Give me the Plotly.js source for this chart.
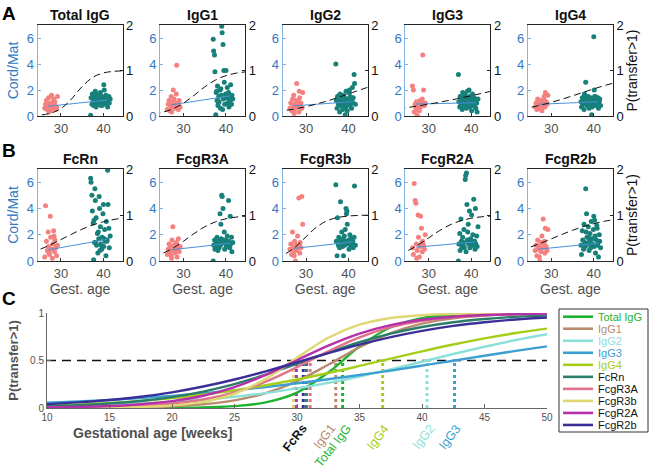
<!DOCTYPE html>
<html>
<head>
<meta charset="utf-8">
<script src="https://cdn.plot.ly/plotly-3.0.1.min.js"></script>
<style>body{margin:0;background:#fff}#plot{width:649px;height:471px}</style>
</head>
<body>
<div id="plot"></div>
<script>
'use strict';
var W = 649, H = 471;
function fx(p) { return p / W; }
function fy(p) { return 1 - p / H; }

var panelNames = ['Total IgG', 'IgG1', 'IgG2', 'IgG3', 'IgG4', 'FcRn', 'FcgR3A', 'FcgR3b', 'FcgR2A', 'FcgR2b'];
var curveColors = ['#1db32e', '#b88a6e', '#8be0d9', '#3b9fd1', '#a6cd1a', '#2b7d6a', '#e0728c', '#dfd774', '#b630aa', '#3a2f96'];

// gestational age of the preterm and term mothers (weeks)
var preAge = [26.2, 26.4, 26.6, 26.8, 27.0, 27.1, 27.3, 27.5, 27.6, 27.8, 28.0, 28.1, 28.3, 28.5, 28.6, 28.8, 29.0, 29.2, 27.2, 28.4];
var termAge = [37.0, 37.1, 37.3, 37.4, 37.6, 37.7, 37.9, 38.0, 38.1, 38.3, 38.4, 38.6, 38.7, 38.9, 39.0, 39.1, 39.3, 39.4, 39.6, 39.7,
  39.9, 40.0, 40.1, 40.3, 40.4, 40.6, 40.7, 40.9, 41.0, 41.1, 41.3, 41.4, 41.6, 38.2, 38.8, 39.5, 40.2, 39.2, 37.8, 40.8];

// cord/maternal ratios
var preTotalIgG = [0.6, 0.9, 1.2, 0.5, 0.8, 1.4, 0.7, 1.0, 0.4, 1.6, 0.9, 0.6, 1.3, 0.8, 1.1, 0.5, 0.7, 1.5, 0.3, 1.0];
var termTotalIgG = [0.05, 1.4, 0.9, 1.7, 1.2, 0.8, 1.5, 1.1, 1.9, 0.7, 1.3, 1.0, 1.6, 1.2, 0.9, 1.4, 1.8, 1.1, 0.8, 1.5,
  1.2, 1.0, 2.4, 1.3, 0.9, 1.6, 1.1, 1.4, 0.7, 1.2, 1.5, 1.0, 1.3, 1.7, 1.2, 0.8, 2.0, 1.4, 1.0, 1.1];
var preIgG1 = [0.5, 0.9, 1.2, 0.4, 0.8, 1.5, 0.7, 1.1, 2.0, 1.3, 0.6, 0.9, 1.7, 0.8, 1.0, 0.5, 1.2, 0.7, 0.3, 3.9];
var termIgG1 = [5.9, 5.0, 4.7, 3.4, 0.1, 1.8, 1.2, 2.3, 0.8, 1.5, 1.1, 2.0, 0.6, 1.6, 6.9, 6.4, 5.5, 1.3, 2.6, 0.9,
  1.7, 3.5, 1.4, 2.2, 1.0, 1.8, 0.7, 1.5, 1.2, 2.4, 0.9, 1.6, 1.3, 1.0, 2.1, 3.5, 1.4, 0.5, 1.9, 1.1];
var preIgG2 = [0.6, 1.0, 0.4, 1.3, 0.8, 1.6, 0.5, 0.9, 1.2, 2.5, 0.7, 1.1, 0.3, 1.4, 0.8, 1.0, 0.6, 1.8, 0.2, 1.9];
var termIgG2 = [4.0, 1.2, 0.6, 1.5, 0.9, 1.1, 0.3, 1.7, 0.8, 1.3, 1.0, 0.5, 1.6, 1.2, 0.9, 1.4, 0.7, 1.9, 1.1, 0.4,
  1.3, 1.0, 1.8, 0.8, 1.5, 1.2, 0.6, 2.2, 1.0, 1.4, 3.2, 2.5, 0.9, 1.3, 0.7, 1.1, 2.0, 0.1, 1.6, 1.2];
var preIgG3 = [2.3, 2.0, 0.3, 0.9, 0.6, 1.1, 0.05, 0.8, 1.0, 0.4, 1.2, 0.7, 0.9, 1.3, 4.7, 2.0, 0.8, 1.0, 0.5, 1.1];
var termIgG3 = [3.2, 1.1, 0.7, 1.5, 0.9, 1.3, 0.5, 1.8, 1.0, 1.2, 0.8, 1.6, 1.1, 0.6, 1.4, 1.9, 0.9, 1.2, 0.7, 1.5,
  1.0, 1.3, 0.4, 1.7, 1.1, 0.8, 1.4, 0.9, 1.2, 0.6, 1.0, 0.3, 1.3, 1.5, 1.1, 2.0, 0.8, 1.2, 0.9, 1.0];
var preIgG4 = [0.7, 1.0, 0.5, 1.3, 0.8, 1.1, 0.6, 0.9, 1.2, 0.4, 1.0, 0.8, 1.5, 0.7, 1.8, 1.1, 0.9, 1.6, 0.6, 1.2];
var termIgG4 = [1.1, 0.7, 1.4, 0.9, 1.2, 0.5, 1.6, 1.0, 2.6, 1.3, 0.8, 1.1, 1.5, 0.6, 1.2, 0.9, 1.4, 1.0, 0.7, 1.3,
  1.1, 6.1, 2.0, 0.8, 1.5, 1.0, 1.2, 0.9, 1.4, 0.6, 1.1, 1.3, 0.8, 1.0, 1.2, 0.1, 1.5, 0.9, 1.7, 1.1];
var preFcRn = [0.3, 4.2, 1.5, 0.8, 2.2, 1.1, 0.5, 3.4, 1.8, 0.9, 0.2, 1.3, 2.3, 0.7, 1.6, 1.0, 0.4, 1.2, 0.6, 1.9];
var termFcRn = [6.3, 6.0, 5.0, 3.8, 2.9, 0.1, 1.4, 5.5, 4.6, 3.3, 1.2, 2.1, 0.6, 1.7, 4.9, 4.0, 2.6, 1.3, 0.9, 1.8,
  3.6, 4.3, 1.1, 2.4, 1.5, 0.4, 3.0, 1.6, 6.9, 4.3, 2.5, 1.0, 1.9, 1.4, 2.2, 1.2, 1.7, 0.8, 3.1, 1.5];
var preFcgR3A = [0.5, 0.9, 1.3, 0.7, 1.1, 0.4, 1.6, 2.6, 0.8, 1.2, 0.6, 1.0, 1.4, 0.3, 0.9, 1.7, 0.7, 1.1, 0.2, 1.3];
var termFcgR3A = [0.0, 1.2, 1.6, 0.9, 1.4, 1.1, 1.8, 1.3, 0.8, 1.5, 1.0, 3.6, 1.2, 1.7, 5.0, 4.9, 4.0, 1.4, 2.2, 0.9,
  1.3, 1.6, 1.1, 1.9, 1.2, 4.6, 1.5, 1.0, 3.4, 1.3, 1.8, 0.7, 1.4, 1.1, 2.8, 1.6, 1.2, 1.5, 1.0, 1.3];
var preFcgR3b = [0.9, 1.3, 0.5, 2.2, 1.0, 0.7, 1.5, 0.0, 1.2, 0.8, 1.9, 1.1, 4.8, 0.6, 1.4, 1.0, 4.9, 2.8, 0.4, 1.2];
var termFcgR3b = [5.8, 1.5, 0.4, 3.3, 1.2, 1.8, 1.0, 1.6, 4.5, 1.3, 2.2, 1.1, 1.7, 1.4, 1.9, 1.2, 1.5, 4.0, 3.8, 2.8,
  1.3, 1.6, 0.9, 2.0, 1.4, 1.1, 1.7, 1.3, 1.5, 1.0, 1.8, 5.7, 1.2, 1.4, 0.4, 3.6, 1.6, 2.4, 1.1, 1.3];
var preFcgR2A = [1.0, 0.5, 5.9, 4.6, 4.4, 1.3, 0.8, 3.5, 1.8, 0.3, 1.1, 3.4, 2.5, 0.7, 1.5, 1.2, 0.9, 2.0, 0.2, 1.4];
var termFcgR2A = [0.0, 1.3, 2.1, 0.8, 3.2, 1.5, 1.1, 1.8, 1.2, 2.4, 1.0, 6.2, 6.5, 6.7, 4.3, 1.6, 2.8, 1.3, 3.8, 1.0,
  1.7, 1.4, 3.5, 1.2, 2.0, 4.7, 1.5, 0.9, 4.0, 1.3, 1.9, 1.1, 2.6, 1.4, 0.7, 1.6, 1.2, 2.2, 1.0, 1.5];
var preFcgR2b = [0.8, 1.2, 0.4, 1.6, 0.9, 1.1, 0.0, 1.4, 0.7, 1.9, 1.0, 3.2, 1.3, 0.6, 2.5, 1.1, 0.8, 2.4, 0.3, 1.5];
var termFcgR2b = [1.2, 0.5, 2.3, 1.6, 0.9, 2.8, 1.4, 1.1, 5.5, 3.6, 1.8, 1.3, 2.6, 0.8, 1.5, 2.1, 1.0, 3.0, 1.7, 1.3,
  2.4, 3.4, 1.1, 1.9, 0.6, 1.6, 2.7, 1.2, 1.4, 0.3, 2.0, 1.5, 1.0, 2.2, 1.8, 1.3, 3.1, 1.6, 1.2, 2.5];

// linear fit of the ratio, read at its two ends
var fitAge = [27, 41];
var fitStart = [0.75, 0.85, 0.78, 0.92, 0.9, 0.85, 0.85, 0.95, 1.05, 0.9];
var fitEnd = [1.23, 1.55, 1.1, 1.02, 1.1, 1.65, 1.35, 1.45, 1.45, 1.35];

// P(transfer>1) curves
var curveAge = [10, 12.5, 15, 17.5, 20, 22.5, 25, 27.5, 30, 32.5, 35, 37.5, 40, 42.5, 45, 47.5, 50];
var pTotalIgG = [0.000, 0.000, 0.000, 0.001, 0.002, 0.007, 0.020, 0.059, 0.162, 0.373, 0.647, 0.850, 0.946, 0.982, 0.994, 0.998, 0.999];
var pIgG1 = [0.001, 0.002, 0.004, 0.009, 0.019, 0.040, 0.081, 0.157, 0.283, 0.455, 0.639, 0.789, 0.888, 0.944, 0.973, 0.987, 0.994];
var pIgG2 = [0.019, 0.026, 0.036, 0.048, 0.066, 0.089, 0.119, 0.157, 0.206, 0.264, 0.331, 0.407, 0.487, 0.568, 0.645, 0.716, 0.777];
var pIgG3 = [0.055, 0.068, 0.085, 0.105, 0.128, 0.155, 0.186, 0.221, 0.260, 0.302, 0.347, 0.394, 0.446, 0.498, 0.550, 0.601, 0.649];
var pIgG4 = [0.025, 0.036, 0.052, 0.075, 0.104, 0.140, 0.185, 0.239, 0.300, 0.368, 0.443, 0.520, 0.596, 0.668, 0.733, 0.789, 0.836];
var pFcRn = [0.019, 0.030, 0.048, 0.074, 0.115, 0.173, 0.251, 0.350, 0.465, 0.582, 0.692, 0.783, 0.853, 0.903, 0.937, 0.960, 0.975];
var pFcgR3A = [0.003, 0.007, 0.013, 0.025, 0.048, 0.090, 0.163, 0.277, 0.430, 0.597, 0.744, 0.851, 0.918, 0.956, 0.977, 0.988, 0.994];
var pFcgR3b = [0.001, 0.002, 0.004, 0.011, 0.027, 0.065, 0.150, 0.307, 0.528, 0.739, 0.877, 0.947, 0.978, 0.991, 0.996, 0.999, 0.999];
var pFcgR2A = [0.006, 0.011, 0.021, 0.040, 0.073, 0.129, 0.220, 0.348, 0.503, 0.657, 0.784, 0.873, 0.929, 0.961, 0.979, 0.989, 0.994];
var pFcgR2b = [0.041, 0.059, 0.084, 0.119, 0.165, 0.226, 0.300, 0.386, 0.481, 0.577, 0.667, 0.746, 0.812, 0.864, 0.903, 0.932, 0.953];

// age where P(transfer>1) = 0.5
var crossAge = [33.65, 33.1, 40.4, 42.6, 36.85, 30.75, 31.05, 29.7, 29.95, 30.5];

var preVals = [preTotalIgG, preIgG1, preIgG2, preIgG3, preIgG4, preFcRn, preFcgR3A, preFcgR3b, preFcgR2A, preFcgR2b];
var termVals = [termTotalIgG, termIgG1, termIgG2, termIgG3, termIgG4, termFcRn, termFcgR3A, termFcgR3b, termFcgR2A, termFcgR2b];
var pCurves = [pTotalIgG, pIgG1, pIgG2, pIgG3, pIgG4, pFcRn, pFcgR3A, pFcgR3b, pFcgR2A, pFcgR2b];

var FONT = 'Liberation Sans, Arial, sans-serif';
var BLUE = '#2f78c4';
var GRAY = '#505050';

var data = [];
var layout = {
  width: W, height: H,
  margin: {l: 0, r: 0, t: 0, b: 0},
  paper_bgcolor: '#fff', plot_bgcolor: 'rgba(0,0,0,0)',
  showlegend: false,
  font: {family: FONT, size: 13, color: '#111'},
  annotations: [], shapes: []
};

for (var i = 0; i < 10; i++) {
  var row = i < 5 ? 0 : 1, col = i % 5;
  var pLeft = 37.5 + col * 122.6, pRight = pLeft + 85;
  var pTop = row ? 169 : 25, pBottom = row ? 261 : 116;
  var xid = 'x' + (i ? i + 1 : ''), ylid = 'y' + (i ? 2 * i + 1 : ''), yrid = 'y' + (2 * i + 2);
  var xname = 'xaxis' + (i ? i + 1 : ''), ylname = 'yaxis' + (i ? 2 * i + 1 : ''), yrname = 'yaxis' + (2 * i + 2);

  data.push({type: 'scatter', mode: 'markers', x: preAge, y: preVals[i], xaxis: xid, yaxis: ylid,
    marker: {color: '#f4817f', size: 5}, hoverinfo: 'skip'});
  data.push({type: 'scatter', mode: 'markers', x: termAge, y: termVals[i], xaxis: xid, yaxis: ylid,
    marker: {color: '#17807a', size: 5}, hoverinfo: 'skip'});
  data.push({type: 'scatter', mode: 'lines', x: fitAge, y: [fitStart[i], fitEnd[i]], xaxis: xid, yaxis: ylid,
    line: {color: '#4a8fd8', width: 1}, hoverinfo: 'skip'});
  data.push({type: 'scatter', mode: 'lines', x: curveAge, y: pCurves[i], xaxis: xid, yaxis: yrid,
    line: {color: '#111', width: 1, dash: '7px,4px', shape: 'spline'}, hoverinfo: 'skip'});

  layout[xname] = {
    domain: [fx(pLeft), fx(pRight)], anchor: ylid, range: [24.5, 44.5], tickvals: [30, 40],
    ticks: 'inside', ticklen: 3, tickcolor: '#333', showline: true, mirror: true, linecolor: '#262626',
    showgrid: false, zeroline: false, tickfont: {size: 13, color: GRAY}
  };
  if (row === 1) {
    layout[xname].title = {text: 'Gest. age', font: {size: 14, color: GRAY}, standoff: 3};
  }
  layout[ylname] = {
    domain: [fy(pBottom), fy(pTop)], anchor: xid, range: [0, 7], tickvals: [0, 2, 4, 6],
    ticks: 'inside', ticklen: 3, tickcolor: '#7fb0e0', showline: true, linecolor: '#86b4e2',
    showgrid: false, zeroline: false, tickfont: {size: 13, color: BLUE}
  };
  if (col === 0) {
    layout[ylname].title = {text: 'Cord/Mat', font: {size: 14, color: BLUE}, standoff: 4};
  }
  layout[yrname] = {
    overlaying: ylid, anchor: xid, side: 'right', range: [0, 2], tickvals: [0, 1, 2],
    ticks: 'inside', ticklen: 3, tickcolor: '#222', showline: true, linecolor: '#222',
    showgrid: false, zeroline: false, tickfont: {size: 13, color: '#111'}
  };
  if (col === 4) {
    layout[yrname].title = {text: 'P(transfer>1)', font: {size: 14, color: '#111'}, standoff: 4};
  }
  layout.annotations.push({
    text: '<b>' + panelNames[i] + '</b>', xref: 'paper', yref: 'paper',
    x: fx((pLeft + pRight) / 2), y: fy(pTop - 10), xanchor: 'center', yanchor: 'middle',
    showarrow: false, font: {size: 14, color: '#111'}
  });
}

// panel C
var cx = 'x11', cy = 'y21';
data.push({type: 'scatter', mode: 'lines', x: [curveAge[0], curveAge[curveAge.length - 1]], y: [0.5, 0.5],
  xaxis: cx, yaxis: cy, line: {color: '#111', width: 1.4, dash: '9px,6px'}, hoverinfo: 'skip'});
for (var k = 0; k < 10; k++) {
  data.push({type: 'scatter', mode: 'lines', x: [crossAge[k], crossAge[k]], y: [0, 0.5], xaxis: cx, yaxis: cy,
    line: {color: curveColors[k], width: 3, dash: 'dot'}, hoverinfo: 'skip'});
}
for (var k2 = 0; k2 < 10; k2++) {
  data.push({type: 'scatter', mode: 'lines', x: curveAge, y: pCurves[k2], xaxis: cx, yaxis: cy,
    line: {color: curveColors[k2], width: 2.4, shape: 'spline'}, hoverinfo: 'skip'});
}
layout.xaxis11 = {
  domain: [fx(47), fx(547)], anchor: cy, range: [10, 50], tickvals: [10, 15, 20, 25, 30, 35, 40, 45, 50],
  ticks: 'inside', ticklen: 4, tickcolor: '#666', showline: true, linecolor: '#666',
  showgrid: false, zeroline: false, tickfont: {size: 10, color: GRAY}
};
layout.yaxis21 = {
  domain: [fy(408), fy(313)], anchor: cx, range: [0, 1], tickvals: [0, 0.5, 1],
  ticks: 'inside', ticklen: 4, tickcolor: '#666', showline: true, linecolor: '#666',
  showgrid: false, zeroline: false, tickfont: {size: 10, color: GRAY},
  title: {text: '<b>P(transfer>1)</b>', font: {size: 13, color: GRAY}, standoff: 8}
};
layout.annotations.push({
  text: '<b>Gestational age [weeks]</b>', xref: 'paper', yref: 'paper', x: fx(153), y: fy(433),
  xanchor: 'center', yanchor: 'middle', showarrow: false, font: {size: 14, color: GRAY}
});

// rotated crossing labels (dx: small nudge so neighbouring labels do not collide)
var fcrSum = 0;
for (var f = 5; f < 10; f++) fcrSum += crossAge[f];
var labelItems = [{text: '<b>FcRs</b>', x: fcrSum / 5, color: '#111', dx: 11}];
var labelNudge = [14, 5, 13, 12, 12];
for (var g = 0; g < 5; g++) labelItems.push({text: panelNames[g], x: crossAge[g], color: curveColors[g], dx: labelNudge[g]});
labelItems.forEach(function (it) {
  layout.annotations.push({
    text: it.text, xref: cx, yref: 'paper', x: it.x, y: fy(419), xanchor: 'right', yanchor: 'top',
    xshift: it.dx, textangle: -52, showarrow: false, font: {size: 12.5, color: it.color}
  });
});

// panel letters
[['A', 13.5], ['B', 150.5], ['C', 298]].forEach(function (p) {
  layout.annotations.push({
    text: '<b>' + p[0] + '</b>', xref: 'paper', yref: 'paper', x: fx(8.5), y: fy(p[1]),
    xanchor: 'center', yanchor: 'middle', showarrow: false, font: {size: 19, color: '#000'}
  });
});

// legend box for panel C
layout.shapes.push({type: 'rect', xref: 'paper', yref: 'paper', x0: fx(559), x1: fx(648), y0: fy(432), y1: fy(309),
  line: {color: '#333', width: 1}, fillcolor: '#fff'});
for (var m = 0; m < 10; m++) {
  var ly = 316.7 + m * 12.03;
  layout.shapes.push({type: 'line', xref: 'paper', yref: 'paper', x0: fx(563), x1: fx(593), y0: fy(ly), y1: fy(ly),
    line: {color: curveColors[m], width: 2.6}});
  layout.annotations.push({
    text: panelNames[m], xref: 'paper', yref: 'paper', x: fx(596), y: fy(ly), xanchor: 'left', yanchor: 'middle',
    showarrow: false, font: {size: 11, color: m < 5 ? curveColors[m] : '#111'}
  });
}

Plotly.newPlot('plot', data, layout, {staticPlot: true});
</script>
</body>
</html>
